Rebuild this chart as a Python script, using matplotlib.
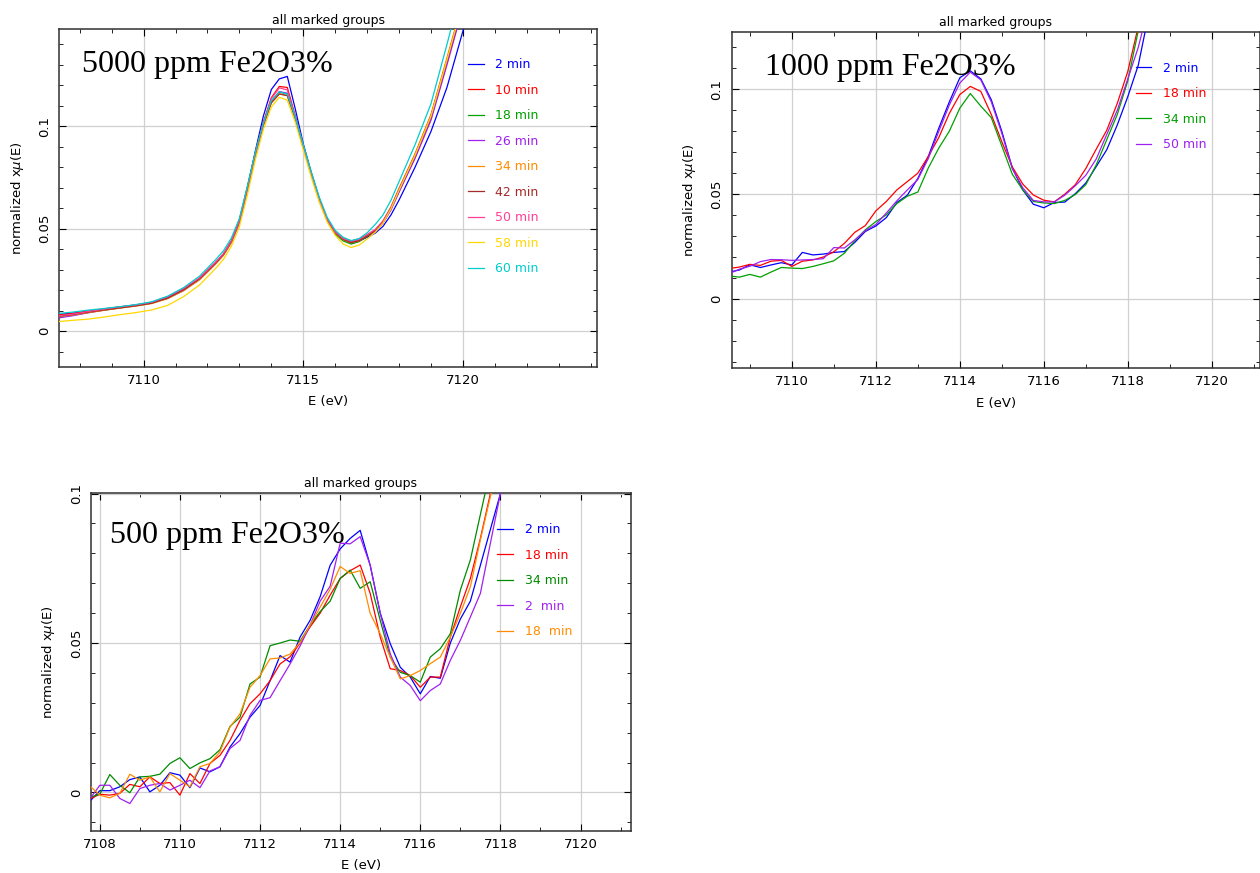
import matplotlib
matplotlib.use('Agg')
from matplotlib import pyplot as plt
from matplotlib.ticker import MultipleLocator, FormatStrFormatter

# ---- 5000 ppm Fe2O3 ----
e5000 = [7107.25, 7107.75, 7108.25, 7108.75, 7109.25, 7109.75, 7110.25, 7110.75, 7111.25, 7111.75, 7112.25,
         7112.5, 7112.75, 7113.0, 7113.25, 7113.5, 7113.75, 7114.0, 7114.25, 7114.5, 7114.75, 7115.0,
         7115.25, 7115.5, 7115.75, 7116.0, 7116.25, 7116.5, 7116.75, 7117.0, 7117.25, 7117.5, 7117.75,
         7118.0, 7118.5, 7119.0, 7119.5, 7120.0, 7120.5]
m5000_02 = [0.0080, 0.0087, 0.0095, 0.0106, 0.0117, 0.0127, 0.0138, 0.0160, 0.0198, 0.0252, 0.0328,
            0.0372, 0.0435, 0.0530, 0.0700, 0.0880, 0.1050, 0.1180, 0.1232, 0.1244, 0.1085, 0.0915,
            0.0775, 0.0648, 0.0548, 0.0482, 0.0450, 0.0433, 0.0440, 0.0458, 0.0478, 0.0512, 0.0568,
            0.0640, 0.0800, 0.0975, 0.1190, 0.1465, 0.1750]
m5000_10 = [0.0078, 0.0085, 0.0097, 0.0108, 0.0118, 0.0127, 0.0139, 0.0164, 0.0203, 0.0256, 0.0332,
            0.0376, 0.0440, 0.0540, 0.0700, 0.0872, 0.1020, 0.1140, 0.1195, 0.1190, 0.1050, 0.0905,
            0.0768, 0.0642, 0.0543, 0.0480, 0.0447, 0.0430, 0.0440, 0.0463, 0.0488, 0.0530, 0.0598,
            0.0685, 0.0850, 0.1040, 0.1310, 0.1590, 0.1880]
m5000_18 = [0.0068, 0.0077, 0.0090, 0.0102, 0.0113, 0.0124, 0.0136, 0.0160, 0.0200, 0.0255, 0.0332,
            0.0376, 0.0442, 0.0545, 0.0705, 0.0870, 0.1012, 0.1122, 0.1168, 0.1158, 0.1042, 0.0902,
            0.0768, 0.0640, 0.0538, 0.0474, 0.0440, 0.0425, 0.0437, 0.0463, 0.0490, 0.0535, 0.0602,
            0.0690, 0.0860, 0.1050, 0.1320, 0.1600, 0.1890]
m5000_26 = [0.0062, 0.0074, 0.0089, 0.0102, 0.0114, 0.0124, 0.0137, 0.0163, 0.0203, 0.0257, 0.0333,
            0.0374, 0.0436, 0.0532, 0.0690, 0.0862, 0.1008, 0.1120, 0.1170, 0.1162, 0.1045, 0.0905,
            0.0770, 0.0645, 0.0546, 0.0484, 0.0450, 0.0436, 0.0445, 0.0468, 0.0490, 0.0528, 0.0592,
            0.0678, 0.0843, 0.1030, 0.1300, 0.1580, 0.1870]
m5000_34 = [0.0070, 0.0078, 0.0090, 0.0101, 0.0112, 0.0122, 0.0134, 0.0158, 0.0197, 0.0250, 0.0327,
            0.0370, 0.0432, 0.0528, 0.0688, 0.0858, 0.1003, 0.1115, 0.1160, 0.1150, 0.1035, 0.0898,
            0.0764, 0.0640, 0.0542, 0.0480, 0.0447, 0.0432, 0.0441, 0.0466, 0.0492, 0.0538, 0.0608,
            0.0698, 0.0866, 0.1058, 0.1335, 0.1615, 0.1905]
m5000_42 = [0.0072, 0.0080, 0.0092, 0.0103, 0.0113, 0.0123, 0.0136, 0.0161, 0.0201, 0.0255, 0.0332,
            0.0374, 0.0437, 0.0534, 0.0693, 0.0862, 0.1005, 0.1115, 0.1158, 0.1150, 0.1036, 0.0900,
            0.0766, 0.0642, 0.0544, 0.0481, 0.0448, 0.0432, 0.0441, 0.0465, 0.0490, 0.0534, 0.0603,
            0.0692, 0.0860, 0.1052, 0.1325, 0.1605, 0.1895]
m5000_50 = [0.0074, 0.0082, 0.0095, 0.0107, 0.0118, 0.0128, 0.0141, 0.0168, 0.0208, 0.0260, 0.0336,
            0.0378, 0.0440, 0.0537, 0.0697, 0.0868, 0.1015, 0.1135, 0.1188, 0.1178, 0.1048, 0.0905,
            0.0768, 0.0643, 0.0545, 0.0484, 0.0452, 0.0440, 0.0450, 0.0472, 0.0496, 0.0538, 0.0605,
            0.0693, 0.0860, 0.1050, 0.1325, 0.1605, 0.1895]
m5000_58 = [0.0045, 0.0052, 0.0058, 0.0068, 0.0080, 0.0090, 0.0103, 0.0125, 0.0168, 0.0225, 0.0305,
            0.0350, 0.0415, 0.0510, 0.0665, 0.0838, 0.0985, 0.1095, 0.1142, 0.1128, 0.1020, 0.0885,
            0.0752, 0.0630, 0.0532, 0.0468, 0.0425, 0.0408, 0.0420, 0.0450, 0.0482, 0.0528, 0.0598,
            0.0688, 0.0858, 0.1050, 0.1325, 0.1605, 0.1895]
m5000_60 = [0.0085, 0.0092, 0.0102, 0.0110, 0.0119, 0.0129, 0.0143, 0.0170, 0.0212, 0.0268, 0.0348,
            0.0392, 0.0455, 0.0550, 0.0708, 0.0875, 0.1015, 0.1125, 0.1168, 0.1158, 0.1045, 0.0910,
            0.0778, 0.0655, 0.0555, 0.0492, 0.0458, 0.0442, 0.0452, 0.0480, 0.0520, 0.0568, 0.0640,
            0.0730, 0.0910, 0.1110, 0.1400, 0.1700, 0.2000]
lab5000 = ['2 min', '10 min', '18 min', '26 min', '34 min', '42 min', '50 min', '58 min', '60 min']
col5000 = ['#0000ff', '#ff0000', '#00a000', '#a020f0', '#ff8c00', '#a52a2a', '#ff3e96', '#ffd700', '#00cdcd']

# ---- 1000 ppm Fe2O3 ----
e1000 = [7108.5, 7108.75, 7109.0, 7109.25, 7109.5, 7109.75, 7110.0, 7110.25, 7110.5, 7110.75, 7111.0,
         7111.25, 7111.5, 7111.75, 7112.0, 7112.25, 7112.5, 7112.75, 7113.0, 7113.25, 7113.5, 7113.75,
         7114.0, 7114.25, 7114.5, 7114.75, 7115.0, 7115.25, 7115.5, 7115.75, 7116.0, 7116.25, 7116.5,
         7116.75, 7117.0, 7117.25, 7117.5, 7117.75, 7118.0, 7118.25, 7118.5, 7118.75]
m1000_02 = [0.0128, 0.0138, 0.0163, 0.0150, 0.0162, 0.0173, 0.0162, 0.0222, 0.0210, 0.0214, 0.0222,
            0.0226, 0.0270, 0.0322, 0.0348, 0.0388, 0.0460, 0.0495, 0.0575, 0.0680, 0.0815, 0.0940,
            0.1055, 0.1088, 0.1050, 0.0950, 0.0800, 0.0625, 0.0520, 0.0452, 0.0435, 0.0460, 0.0462,
            0.0502, 0.0553, 0.0632, 0.0712, 0.0830, 0.0965, 0.1115, 0.1360, 0.1600]
m1000_18 = [0.0145, 0.0152, 0.0165, 0.0160, 0.0180, 0.0184, 0.0155, 0.0180, 0.0186, 0.0200, 0.0225,
            0.0265, 0.0318, 0.0350, 0.0420, 0.0465, 0.0520, 0.0560, 0.0600, 0.0680, 0.0770, 0.0885,
            0.0975, 0.1014, 0.0990, 0.0880, 0.0750, 0.0630, 0.0548, 0.0496, 0.0471, 0.0463, 0.0500,
            0.0545, 0.0622, 0.0715, 0.0805, 0.0933, 0.1085, 0.1300, 0.1550, 0.1800]
m1000_34 = [0.0110, 0.0104, 0.0117, 0.0104, 0.0128, 0.0150, 0.0147, 0.0145, 0.0155, 0.0168, 0.0182,
            0.0218, 0.0278, 0.0330, 0.0369, 0.0401, 0.0455, 0.0490, 0.0510, 0.0625, 0.0720, 0.0800,
            0.0910, 0.0980, 0.0920, 0.0865, 0.0730, 0.0595, 0.0520, 0.0465, 0.0458, 0.0455, 0.0470,
            0.0498, 0.0545, 0.0640, 0.0760, 0.0880, 0.1040, 0.1280, 0.1520, 0.1770]
m1000_50 = [0.0120, 0.0142, 0.0156, 0.0178, 0.0188, 0.0187, 0.0184, 0.0186, 0.0188, 0.0192, 0.0245,
            0.0243, 0.0282, 0.0326, 0.0355, 0.0410, 0.0468, 0.0520, 0.0570, 0.0670, 0.0800, 0.0925,
            0.1030, 0.1082, 0.1045, 0.0940, 0.0790, 0.0622, 0.0530, 0.0470, 0.0463, 0.0463, 0.0495,
            0.0540, 0.0590, 0.0668, 0.0785, 0.0900, 0.1050, 0.1200, 0.1400, 0.1650]
lab1000 = ['2 min', '18 min', '34 min', '50 min']
col1000 = ['#0000ff', '#ff0000', '#00a000', '#a020f0']

# ---- 500 ppm Fe2O3 ----
e500 = [7107.75, 7108.0, 7108.25, 7108.5, 7108.75, 7109.0, 7109.25, 7109.5, 7109.75, 7110.0, 7110.25,
        7110.5, 7110.75, 7111.0, 7111.25, 7111.5, 7111.75, 7112.0, 7112.25, 7112.5, 7112.75, 7113.0,
        7113.25, 7113.5, 7113.75, 7114.0, 7114.25, 7114.5, 7114.75, 7115.0, 7115.25, 7115.5, 7115.75,
        7116.0, 7116.25, 7116.5, 7116.75, 7117.0, 7117.25, 7117.5, 7117.75, 7118.0, 7118.25]
m500_02 = [-0.0030, 0.0006, 0.0006, 0.0019, 0.0043, 0.0052, 0.0002, 0.0024, 0.0066, 0.0058, 0.0016,
           0.0082, 0.0069, 0.0086, 0.0152, 0.0197, 0.0252, 0.0291, 0.0374, 0.0458, 0.0436, 0.0520,
           0.0576, 0.0655, 0.0760, 0.0815, 0.0850, 0.0877, 0.0760, 0.0600, 0.0498, 0.0419, 0.0386,
           0.0330, 0.0388, 0.0382, 0.0500, 0.0580, 0.0640, 0.0760, 0.0880, 0.1000, 0.1150]
m500_18 = [-0.0022, -0.0006, -0.0009, -0.0003, 0.0027, 0.0019, 0.0052, 0.0030, 0.0033, -0.0009, 0.0063,
           0.0030, 0.0097, 0.0124, 0.0174, 0.0241, 0.0297, 0.0330, 0.0374, 0.0430, 0.0454, 0.0500,
           0.0554, 0.0600, 0.0660, 0.0716, 0.0742, 0.0761, 0.0666, 0.0520, 0.0414, 0.0408, 0.0391,
           0.0352, 0.0386, 0.0386, 0.0520, 0.0621, 0.0716, 0.0850, 0.1000, 0.1180, 0.1350]
m500_34 = [-0.0016, -0.0006, 0.0060, 0.0024, -0.0001, 0.0052, 0.0054, 0.0061, 0.0097, 0.0116, 0.0080,
           0.0099, 0.0113, 0.0143, 0.0221, 0.0252, 0.0363, 0.0386, 0.0491, 0.0500, 0.0510, 0.0506,
           0.0560, 0.0605, 0.0640, 0.0716, 0.0744, 0.0683, 0.0705, 0.0576, 0.0453, 0.0402, 0.0391,
           0.0369, 0.0453, 0.0481, 0.0531, 0.0677, 0.0778, 0.0930, 0.1080, 0.1250, 0.1400]
m500_02b = [-0.0022, 0.0024, 0.0024, -0.0020, -0.0037, 0.0013, 0.0024, 0.0030, 0.0008, 0.0024, 0.0041,
            0.0016, 0.0072, 0.0086, 0.0147, 0.0174, 0.0258, 0.0308, 0.0317, 0.0374, 0.0430, 0.0490,
            0.0560, 0.0640, 0.0690, 0.0834, 0.0832, 0.0856, 0.0760, 0.0600, 0.0464, 0.0386, 0.0358,
            0.0307, 0.0341, 0.0363, 0.0442, 0.0509, 0.0587, 0.0666, 0.0834, 0.1000, 0.1180]
m500_18b = [0.0022, -0.0009, -0.0018, -0.0003, 0.0061, 0.0041, 0.0052, 0.0002, 0.0063, 0.0041, 0.0019,
            0.0086, 0.0097, 0.0136, 0.0219, 0.0263, 0.0352, 0.0391, 0.0447, 0.0450, 0.0463, 0.0502,
            0.0560, 0.0620, 0.0680, 0.0756, 0.0733, 0.0742, 0.0599, 0.0531, 0.0453, 0.0380, 0.0391,
            0.0408, 0.0431, 0.0453, 0.0520, 0.0599, 0.0688, 0.0845, 0.0990, 0.1150, 0.1320]
lab500 = ['2 min', '18 min', '34 min', '2  min', '18  min']
col500 = ['#0000ff', '#ff0000', '#008b00', '#a020f0', '#ff8c00']

fig = plt.figure(figsize=(12.6, 8.73), dpi=100)


def panel(rect, energy, series, labels, colors, xlim, ylim, xmaj, note, note_xy, leg_xy):
    ax = fig.add_axes(rect)
    for y, lab, c in zip(series, labels, colors):
        ax.plot(energy, y, color=c, lw=0.9, label=lab, zorder=3)
    ax.set_xlim(*xlim)
    ax.set_ylim(*ylim)
    ax.xaxis.set_major_locator(MultipleLocator(xmaj))
    ax.xaxis.set_minor_locator(MultipleLocator(1))
    ax.yaxis.set_major_locator(MultipleLocator(0.05))
    ax.yaxis.set_minor_locator(MultipleLocator(0.01))
    ax.yaxis.set_major_formatter(FormatStrFormatter('%g'))
    ax.grid(True, which='major', color='#d0d0d0', lw=0.9, zorder=0)
    ax.tick_params(which='both', direction='in', top=True, right=True, labelsize=9.5)
    ax.tick_params(which='major', length=5)
    ax.tick_params(which='minor', length=3)
    ax.tick_params(axis='y', labelrotation=90, pad=6)
    ax.tick_params(axis='x', pad=5)
    for lbl in ax.get_yticklabels():
        lbl.set_verticalalignment('center')
    for s in ax.spines.values():
        s.set_linewidth(1.1)
        s.set_color('#303030')
    ax.set_title('all marked groups', fontsize=9, pad=4)
    ax.set_xlabel('E (eV)', fontsize=9.5, labelpad=6)
    ax.set_ylabel(r'normalized x$\mu$(E)', fontsize=9.5, labelpad=9)
    ax.text(note_xy[0], note_xy[1], note, transform=ax.transAxes, family='Liberation Serif',
            fontsize=23, va='baseline', ha='left', zorder=5)
    ax.legend(loc='upper left', bbox_to_anchor=leg_xy, frameon=False, fontsize=9,
              labelcolor='linecolor', handlelength=1.25, handletextpad=0.95,
              labelspacing=1.0, borderpad=0, borderaxespad=0)
    return ax


panel([0.0471, 0.580, 0.4267, 0.3864], e5000,
      [m5000_02, m5000_10, m5000_18, m5000_26, m5000_34, m5000_42, m5000_50, m5000_58, m5000_60],
      lab5000, col5000, (7107.36, 7124.2), (-0.0174, 0.1474), 5,
      '5000 ppm Fe2O3%', (0.042, 0.873), (0.760, 0.915))

panel([0.5808, 0.5781, 0.4189, 0.3856], e1000,
      [m1000_02, m1000_18, m1000_34, m1000_50],
      lab1000, col1000, (7108.57, 7121.14), (-0.0331, 0.1275), 2,
      '1000 ppm Fe2O3%', (0.063, 0.871), (0.765, 0.911))

panel([0.0722, 0.0481, 0.4286, 0.3872], e500,
      [m500_02, m500_18, m500_34, m500_02b, m500_18b],
      lab500, col500, (7107.78, 7121.26), (-0.0129, 0.1002), 2,
      '500 ppm Fe2O3%', (0.035, 0.852), (0.752, 0.911))

fig.savefig('out.png', dpi=100)
